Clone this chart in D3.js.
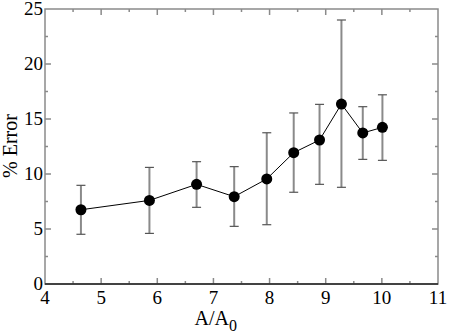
<!DOCTYPE html>
<html>
<head>
<meta charset="utf-8">
<script src="https://cdn.jsdelivr.net/npm/d3@7"></script>
<style>
  body { margin: 0; background: #fff; }
  svg text { font-family: "Liberation Serif", "DejaVu Serif", serif; }
</style>
</head>
<body>
<div id="chart"></div>
<script>
// data
var ratio = [4.64, 5.86, 6.70, 7.37, 7.95, 8.43, 8.89, 9.28, 9.66, 10.01];
var error = [6.75, 7.6, 9.06, 7.94, 9.55, 11.94, 13.09, 16.36, 13.73, 14.24];
var errHigh = [8.97, 10.6, 11.12, 10.67, 13.75, 15.55, 16.33, 24.0, 16.12, 17.2];
var errLow = [4.52, 4.6, 6.97, 5.24, 5.39, 8.34, 9.06, 8.79, 11.33, 11.24];
var xTicks = [4, 5, 6, 7, 8, 9, 10, 11];
var yTicks = [0, 5, 10, 15, 20, 25];

var width = 450, height = 334;
var margin = {top: 9, right: 12, bottom: 50, left: 45};

var svg = d3.select('#chart').append('svg')
  .attr('width', width)
  .attr('height', height);

var x = d3.scaleLinear().domain([4, 11]).range([margin.left, width - margin.right]);
var y = d3.scaleLinear().domain([0, 25]).range([height - margin.bottom, margin.top]);

var points = ratio.map(function(d, i) {
  return {x: d, y: error[i], hi: errHigh[i], lo: errLow[i]};
});

var frame = '#8a8a8a';
var x0 = x(4), x1 = x(11), y0 = y(0), y1 = y(25);

// ticks (inward, on all four sides)
var minorX = d3.range(4.5, 11, 1);
var minorY = d3.range(2.5, 25, 5);
var g = svg.append('g').attr('stroke', frame).attr('stroke-width', 1.5);
function tickX(list, len) {
  list.forEach(function(v) {
    g.append('line').attr('x1', x(v)).attr('x2', x(v)).attr('y1', y0).attr('y2', y0 - len);
    g.append('line').attr('x1', x(v)).attr('x2', x(v)).attr('y1', y1).attr('y2', y1 + len);
  });
}
function tickY(list, len) {
  list.forEach(function(v) {
    g.append('line').attr('y1', y(v)).attr('y2', y(v)).attr('x1', x0).attr('x2', x0 + len);
    g.append('line').attr('y1', y(v)).attr('y2', y(v)).attr('x1', x1).attr('x2', x1 - len);
  });
}
tickX(xTicks.slice(1, -1), 6);
tickX(minorX, 3);
tickY(yTicks.slice(1, -1), 6);
tickY(minorY, 3);

// frame
svg.append('rect')
  .attr('x', x0).attr('y', y1)
  .attr('width', x1 - x0).attr('height', y0 - y1)
  .attr('fill', 'none').attr('stroke', frame).attr('stroke-width', 1.5);
svg.append('line')
  .attr('x1', x0).attr('x2', x1).attr('y1', y0).attr('y2', y0)
  .attr('stroke', '#222').attr('stroke-width', 1.5);

// tick labels
svg.append('g').selectAll('text').data(xTicks).enter().append('text')
  .attr('x', function(d) { return x(d); })
  .attr('y', y0 + 20)
  .attr('text-anchor', 'middle')
  .style('font-size', '19px')
  .text(function(d) { return d; });

svg.append('g').selectAll('text').data(yTicks).enter().append('text')
  .attr('x', x0 - 2)
  .attr('y', function(d) { return y(d) + 6; })
  .attr('text-anchor', 'end')
  .style('font-size', '19px')
  .text(function(d) { return d; });

// axis titles
var xt = svg.append('text')
  .attr('x', x(7.04))
  .attr('y', 325)
  .attr('text-anchor', 'middle')
  .style('font-size', '20px');
xt.append('tspan').text('A/A');
xt.append('tspan').attr('dy', 6).style('font-size', '16px').text('0');

svg.append('text')
  .attr('transform', 'translate(17,' + 146 + ') rotate(-90)')
  .attr('text-anchor', 'middle')
  .style('font-size', '20px')
  .text('% Error');

// error bars
var eb = svg.append('g');
eb.selectAll('line.bar').data(points).enter().append('line')
  .attr('x1', function(d) { return x(d.x); })
  .attr('x2', function(d) { return x(d.x); })
  .attr('y1', function(d) { return y(d.lo); })
  .attr('y2', function(d) { return y(d.hi); })
  .attr('stroke', '#8a8a8a').attr('stroke-width', 2);
['hi', 'lo'].forEach(function(k) {
  eb.selectAll('line.cap-' + k).data(points).enter().append('line')
    .attr('x1', function(d) { return x(d.x) - 4.5; })
    .attr('x2', function(d) { return x(d.x) + 4.5; })
    .attr('y1', function(d) { return y(d[k]); })
    .attr('y2', function(d) { return y(d[k]); })
    .attr('stroke', '#555').attr('stroke-width', 1.2);
});

// line and markers
var line = d3.line().x(function(d) { return x(d.x); }).y(function(d) { return y(d.y); });
svg.append('path').datum(points)
  .attr('d', line)
  .attr('fill', 'none').attr('stroke', '#000').attr('stroke-width', 1);

svg.selectAll('circle').data(points).enter().append('circle')
  .attr('cx', function(d) { return x(d.x); })
  .attr('cy', function(d) { return y(d.y); })
  .attr('r', 5.5)
  .attr('fill', '#000');
</script>
</body>
</html>
